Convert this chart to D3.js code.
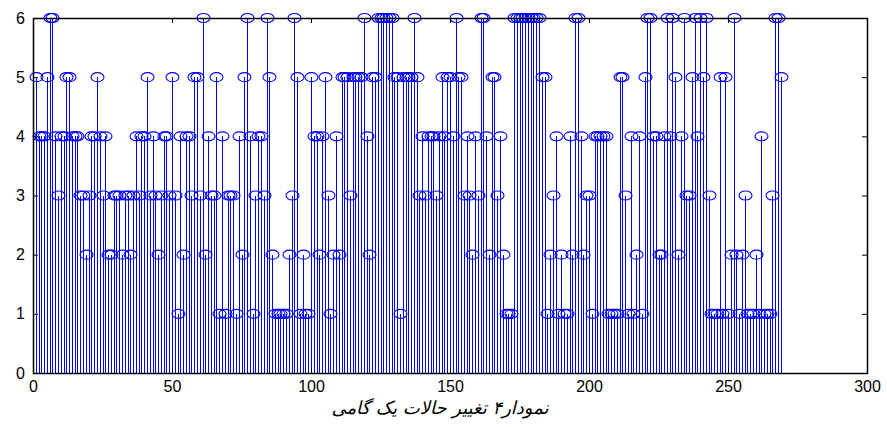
<!DOCTYPE html>
<html lang="fa">
<head>
<meta charset="UTF-8">
<title>نمودار۴</title>
<script src="https://d3js.org/d3.v7.min.js"></script>
<style>
  body { margin: 0; background: #fff; }
  svg text { font-family: "Liberation Sans", Arial, sans-serif; }
  .caption { font-family: "DejaVu Sans", sans-serif; font-style: italic; }
</style>
</head>
<body>
<svg id="chart"></svg>
<script>
// state values, one per step (index 1..269)
const states = [
  5,4,4,4,5,6,6,4,3,4, 4,5,5,4,4,4,3,3,2,3, 4,4,5,4,3,4,2,2,3,3,
  3,2,3,3,2,3,4,3,4,4, 5,3,4,3,2,3,4,4,3,5, 3,1,4,2,4,4,3,5,5,3,
  6,2,4,3,3,5,1,4,1,3, 3,3,1,4,2,5,6,4,1,3, 4,4,3,6,5,2,1,1,1,1,
  1,2,3,6,5,1,2,1,1,5, 4,4,2,4,5,3,1,2,4,2, 5,5,5,3,5,5,5,5,6,4,
  2,5,5,6,6,6,6,6,6,5, 5,1,5,5,5,5,6,5,3,4, 3,4,4,4,3,4,5,4,5,5,
  4,6,5,5,3,4,3,2,4,3, 6,6,4,2,5,5,3,4,2,1, 1,1,6,6,6,6,6,6,6,6,
  6,6,5,5,1,2,3,4,1,2, 1,1,4,2,6,6,4,2,3,3, 1,4,4,4,4,4,1,1,1,1,
  5,5,3,1,4,1,2,4,1,5, 6,6,4,4,2,2,4,6,4,6, 5,2,4,6,3,3,5,6,4,6,
  5,6,3,1,1,1,5,1,5,1, 2,6,2,1,2,3,1,1,1,2, 1,4,1,1,1,3,6,6,5
];
const xTicks = [0, 50, 100, 150, 200, 250, 300];
const yTicks = [0, 1, 2, 3, 4, 5, 6];
const caption = "نمودار۴ تغییر حالات یک گامی";

const W = 887, H = 427;
const margin = { top: 18, right: 20, bottom: 54, left: 33 };
const width = W - margin.left - margin.right;
const height = H - margin.top - margin.bottom;

const svg = d3.select("#chart").attr("width", W).attr("height", H);
const g = svg.append("g").attr("transform", `translate(${margin.left},${margin.top})`);

const x = d3.scaleLinear().domain([0, 300]).range([0, width]);
const y = d3.scaleLinear().domain([0, 6]).range([height, 0]);

const data = states.map((v, i) => ({ i: i + 1, v }));

// stems
g.selectAll(".stem")
  .data(data)
  .join("line")
  .attr("class", "stem")
  .attr("x1", d => Math.round(x(d.i)) + 0.5).attr("x2", d => Math.round(x(d.i)) + 0.5)
  .attr("y1", y(0)).attr("y2", d => y(d.v))
  .attr("stroke", "#0000ff")
  .attr("stroke-width", 1)
  .attr("shape-rendering", "crispEdges");

// open markers
g.selectAll(".mark")
  .data(data)
  .join("ellipse")
  .attr("class", "mark")
  .attr("cx", d => Math.round(x(d.i)) + 0.5)
  .attr("cy", d => y(d.v))
  .attr("rx", 6.5).attr("ry", 4.5)
  .attr("fill", "none")
  .attr("stroke", "#0000ff")
  .attr("stroke-width", 1.1);

// box
g.append("rect")
  .attr("x", 0.5).attr("y", 0.5)
  .attr("width", width).attr("height", height)
  .attr("fill", "none").attr("stroke", "#000").attr("stroke-width", 1.5);

// inward ticks, matlab style
const tk = 5;
const fmt = d3.format("d");
const xAxis = g.append("g").attr("transform", `translate(0,${height})`)
  .call(d3.axisBottom(x).tickValues(xTicks).tickSize(-tk).tickPadding(8).tickFormat(fmt));
const xTop = g.append("g")
  .call(d3.axisTop(x).tickValues(xTicks).tickSize(-tk).tickFormat(""));
const yAxis = g.append("g")
  .call(d3.axisLeft(y).tickValues(yTicks).tickSize(-tk).tickPadding(8).tickFormat(fmt));
const yRight = g.append("g").attr("transform", `translate(${width},0)`)
  .call(d3.axisRight(y).tickValues(yTicks).tickSize(-tk).tickFormat(""));

[xAxis, xTop, yAxis, yRight].forEach(a => {
  a.select(".domain").remove();
  a.selectAll("line").attr("stroke", "#000");
  a.selectAll("text").attr("font-size", 16).attr("fill", "#000")
    .style("font-family", "'Liberation Sans', Arial, sans-serif");
});

svg.append("text")
  .attr("class", "caption")
  .attr("x", 440).attr("y", 414)
  .attr("text-anchor", "middle")
  .attr("direction", "rtl")
  .attr("font-size", 18)
  .attr("fill", "#000")
  .text(caption);
</script>
</body>
</html>
